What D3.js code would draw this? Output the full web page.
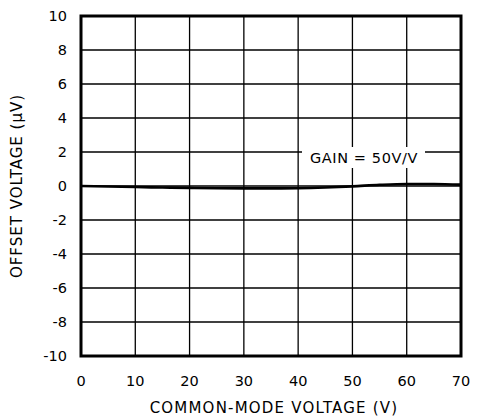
<!DOCTYPE html>
<html>
<head>
<meta charset="utf-8">
<script src="https://cdn.jsdelivr.net/npm/d3@7"></script>
<style>
  body { margin: 0; background: #fff; }
  text { font-family: "DejaVu Sans", sans-serif; fill: #000; }
</style>
</head>
<body>
<svg id="chart" width="478" height="418"></svg>
<script>
// common-mode voltage (V) vs offset voltage (uV)
var cmVolts = [0, 5, 10, 15, 20, 25, 30, 35, 40, 45, 50, 55, 60, 65, 70];
var offsetUV = [0, -0.03, -0.06, -0.09, -0.11, -0.13, -0.14, -0.14, -0.13, -0.09, -0.02, 0.07, 0.12, 0.12, 0.08];
var xTicks = [0, 10, 20, 30, 40, 50, 60, 70];
var yTicks = [-10, -8, -6, -4, -2, 0, 2, 4, 6, 8, 10];
var gainLabel = 'GAIN = 50V/V';

var svg = d3.select('#chart');
// plot box edges (note: "top" is taken by window.top)
var plotL = 81, plotR = 461, plotT = 16, plotB = 356;

var x = d3.scaleLinear().domain([0, 70]).range([plotL, plotR]);
var y = d3.scaleLinear().domain([-10, 10]).range([plotB, plotT]);

// grid
svg.append('g').selectAll('line').data(xTicks).enter().append('line')
  .attr('x1', function (d) { return x(d); })
  .attr('x2', function (d) { return x(d); })
  .attr('y1', plotT).attr('y2', plotB)
  .attr('stroke', '#000').attr('stroke-width', 1.3);
svg.append('g').selectAll('line').data(yTicks).enter().append('line')
  .attr('y1', function (d) { return y(d); })
  .attr('y2', function (d) { return y(d); })
  .attr('x1', plotL).attr('x2', plotR)
  .attr('stroke', '#000').attr('stroke-width', 1.3);

// label box over the grid
svg.append('rect')
  .attr('x', 302).attr('y', 147).attr('width', 123).attr('height', 21)
  .attr('fill', '#fff');
svg.append('text')
  .attr('x', 364).attr('y', 163)
  .attr('text-anchor', 'middle')
  .style('font-size', '14.5px')
  .style('letter-spacing', '0.6px')
  .text(gainLabel);

// curve
var line = d3.line()
  .x(function (d, i) { return x(cmVolts[i]); })
  .y(function (d) { return y(d); })
  .curve(d3.curveMonotoneX);
svg.append('path')
  .datum(offsetUV)
  .attr('d', line)
  .attr('fill', 'none')
  .attr('stroke', '#000')
  .attr('stroke-width', 2.6);

// frame
svg.append('rect')
  .attr('x', plotL).attr('y', plotT)
  .attr('width', plotR - plotL).attr('height', plotB - plotT)
  .attr('fill', 'none').attr('stroke', '#000').attr('stroke-width', 3);

// tick labels
svg.append('g').selectAll('text').data(xTicks).enter().append('text')
  .attr('x', function (d) { return x(d); })
  .attr('y', 386)
  .attr('text-anchor', 'middle')
  .style('font-size', '14.5px')
  .text(function (d) { return d; });
svg.append('g').selectAll('text').data(yTicks).enter().append('text')
  .attr('x', 67)
  .attr('y', function (d) { return y(d) + 5; })
  .attr('text-anchor', 'end')
  .style('font-size', '14.5px')
  .text(function (d) { return d; });

// axis titles
svg.append('text')
  .attr('x', x(35) + 3).attr('y', 413)
  .attr('text-anchor', 'middle')
  .style('font-size', '15px')
  .style('letter-spacing', '1.2px')
  .text('COMMON-MODE VOLTAGE (V)');
svg.append('text')
  .attr('transform', 'translate(22,' + y(0) + ') rotate(-90)')
  .attr('text-anchor', 'middle')
  .style('font-size', '15px')
  .style('letter-spacing', '1px')
  .text('OFFSET VOLTAGE (\u00b5V)');
</script>
</body>
</html>
